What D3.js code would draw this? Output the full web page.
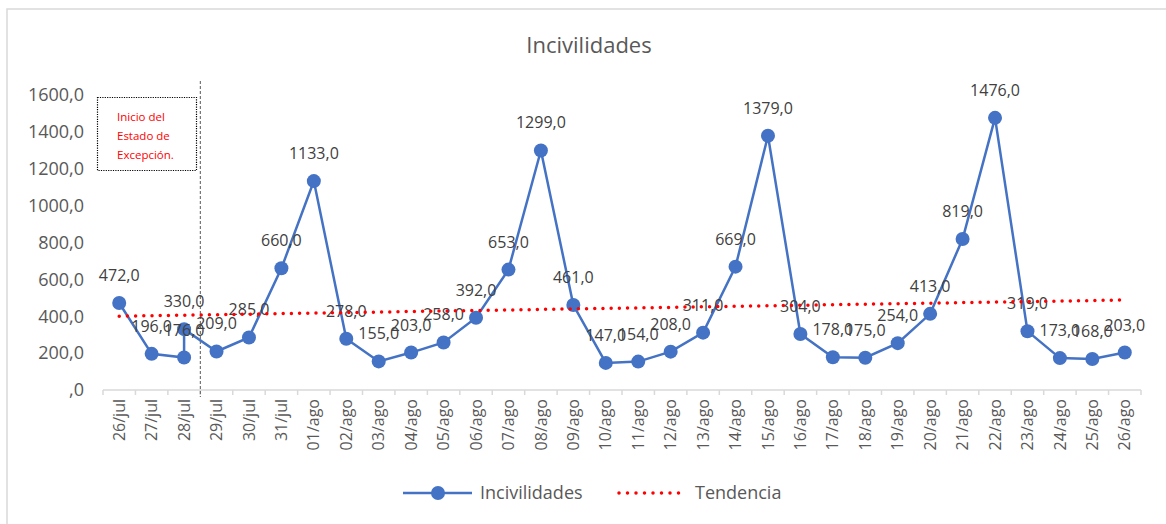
<!DOCTYPE html>
<meta charset="utf-8">
<style>
body { margin: 0; background: #fff; }
text { font-family: "Open Sans", sans-serif; }
.axis path { stroke: none; }
</style>
<div id="viz"></div>
<script src="https://d3js.org/d3.v7.min.js"></script>
<script>
// dates (28/jul appears twice in the source table)
var fechas = ["26/jul","27/jul","28/jul","28/jul","29/jul","30/jul","31/jul",
  "01/ago","02/ago","03/ago","04/ago","05/ago","06/ago","07/ago","08/ago","09/ago",
  "10/ago","11/ago","12/ago","13/ago","14/ago","15/ago","16/ago","17/ago","18/ago",
  "19/ago","20/ago","21/ago","22/ago","23/ago","24/ago","25/ago","26/ago"];
var incivilidades = [472,196,176,330,209,285,660,1133,278,155,203,258,392,653,1299,461,
  147,154,208,311,669,1379,304,178,175,254,413,819,1476,319,173,168,203];
// linear trend, value at first and last date
var tendencia = [400, 488];
var yTicks = [0,200,400,600,800,1000,1200,1400,1600];
var nota = ["Inicio del", "Estado de", "Excepción."];

var W = 1166, H = 524;
var blue = "#4472C4", grey = "#595959";

var svg = d3.select("#viz").append("svg")
    .attr("width", W).attr("height", H);

// chart frame
svg.append("rect")
    .attr("x", 7).attr("y", 9).attr("width", W).attr("height", H)
    .attr("fill", "none").attr("stroke", "#d9d9d9").attr("stroke-width", 1.5);

svg.append("text")
    .attr("x", 589).attr("y", 53)
    .attr("text-anchor", "middle")
    .attr("font-size", 22).attr("fill", grey)
    .text("Incivilidades");

var cats = Array.from(new Set(fechas));
var x = d3.scaleBand().domain(cats).range([103, 1141]);
var y = d3.scaleLinear().domain([0, 1600]).range([390, 95]);
var cx = function(d) { return x(d) + x.bandwidth() / 2; };

var fmt = function(v) { return v === 0 ? ",0" : v.toFixed(1).replace(".", ","); };

// y axis labels
var ya = svg.append("g").attr("class", "axis")
    .attr("transform", "translate(86,0)")
    .call(d3.axisLeft(y).tickValues(yTicks).tickSize(0).tickPadding(2).tickFormat(fmt));
ya.selectAll("text").attr("font-size", 18).attr("fill", grey);

// x axis line + ticks
svg.append("line")
    .attr("x1", 103).attr("x2", 1141).attr("y1", 390).attr("y2", 390)
    .attr("stroke", "#d9d9d9").attr("stroke-width", 1.5);
svg.append("g").selectAll("line")
    .data(cats.concat(["end"]))
    .join("line")
    .attr("x1", function(d, i) { return 103 + i * x.bandwidth(); })
    .attr("x2", function(d, i) { return 103 + i * x.bandwidth(); })
    .attr("y1", 390).attr("y2", 395)
    .attr("stroke", "#d9d9d9").attr("stroke-width", 1.5);
svg.append("g").selectAll("text")
    .data(cats)
    .join("text")
    .attr("transform", function(d) { return "translate(" + cx(d) + ",399) rotate(-90)"; })
    .attr("text-anchor", "end")
    .attr("dy", "0.35em")
    .attr("font-size", 16).attr("fill", grey)
    .text(function(d) { return d; });

// state of exception marker
var xEdge = x("29/jul");
svg.append("line")
    .attr("x1", xEdge).attr("x2", xEdge).attr("y1", 81).attr("y2", 397)
    .attr("stroke", grey).attr("stroke-width", 1).attr("stroke-dasharray", "3,2");
svg.append("rect")
    .attr("x", 97.5).attr("y", 97.5).attr("width", 99).attr("height", 73)
    .attr("fill", "#fff").attr("stroke", "#000").attr("stroke-width", 1.2)
    .attr("stroke-dasharray", "1.2,1.2");
svg.append("g").selectAll("text")
    .data(nota)
    .join("text")
    .attr("x", 117).attr("y", function(d, i) { return 121 + i * 19; })
    .attr("font-size", 11.5).attr("fill", "#ff0000")
    .text(function(d) { return d; });

// series
var pts = fechas.map(function(f, i) { return {f: f, v: incivilidades[i]}; });
svg.append("path")
    .datum(pts)
    .attr("fill", "none").attr("stroke", blue).attr("stroke-width", 2.5)
    .attr("d", d3.line().x(function(d) { return cx(d.f); }).y(function(d) { return y(d.v); }));
svg.append("g").selectAll("circle")
    .data(pts)
    .join("circle")
    .attr("cx", function(d) { return cx(d.f); })
    .attr("cy", function(d) { return y(d.v); })
    .attr("r", 7).attr("fill", blue);
svg.append("g").selectAll("text")
    .data(pts)
    .join("text")
    .attr("x", function(d) { return cx(d.f); })
    .attr("y", function(d) { return y(d.v) - 22; })
    .attr("text-anchor", "middle")
    .attr("font-size", 16).attr("fill", "#404040")
    .text(function(d) { return fmt(d.v); });

// trend line
svg.append("line")
    .attr("x1", cx(cats[0])).attr("x2", cx(cats[cats.length - 1]))
    .attr("y1", y(tendencia[0])).attr("y2", y(tendencia[1]))
    .attr("stroke", "#ff0000").attr("stroke-width", 3.5)
    .attr("stroke-linecap", "round").attr("stroke-dasharray", "0,8.2");

// legend
var lg = svg.append("g").attr("transform", "translate(0,493)");
lg.append("line").attr("x1", 403).attr("x2", 472)
    .attr("stroke", blue).attr("stroke-width", 2.5);
lg.append("circle").attr("cx", 438).attr("r", 7).attr("fill", blue);
lg.append("text").attr("x", 480).attr("dy", "0.35em")
    .attr("font-size", 18).attr("fill", grey).text("Incivilidades");
lg.append("line").attr("x1", 619).attr("x2", 687)
    .attr("stroke", "#ff0000").attr("stroke-width", 3.5)
    .attr("stroke-linecap", "round").attr("stroke-dasharray", "0,8.5");
lg.append("text").attr("x", 695).attr("dy", "0.35em")
    .attr("font-size", 18).attr("fill", grey).text("Tendencia");
</script>
